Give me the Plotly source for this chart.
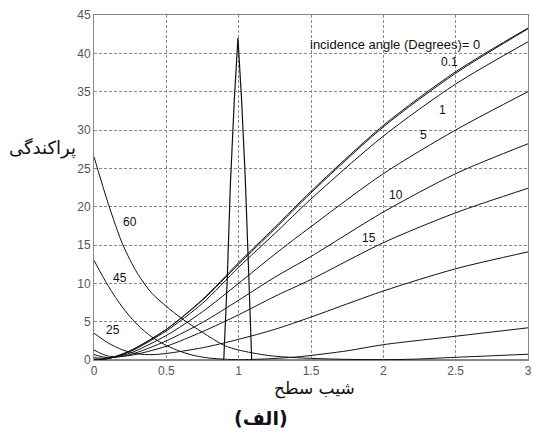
import plotly.graph_objects as go

# ---- data ----
x_rise = [0, 0.1, 0.25, 0.5, 0.75, 1, 1.25, 1.5, 2, 2.5, 3]
s_0   = [0.0, 0.2, 1.2, 4.0, 7.9, 12.7, 17.3, 22.0, 30.6, 37.6, 43.3]
s_01  = [0.05, 0.2, 1.2, 4.0, 7.8, 12.5, 17.1, 21.8, 30.4, 37.4, 43.2]
s_1   = [0.1, 0.2, 1.1, 3.8, 7.4, 12.1, 16.5, 21.0, 29.2, 36.0, 41.5]
s_5   = [0.3, 0.25, 0.9, 3.2, 6.3, 10.0, 13.8, 17.4, 24.3, 30.0, 35.0]
s_10  = [0.7, 0.3, 0.7, 2.5, 4.9, 7.8, 10.8, 13.5, 19.3, 24.3, 28.2]
s_15  = [1.3, 0.5, 0.6, 1.8, 3.7, 5.9, 8.3, 10.5, 15.3, 19.2, 22.4]

x_25 = [0, 0.1, 0.2, 0.3, 0.4, 0.5, 0.75, 1.0, 1.25, 1.5, 2.0, 2.5, 3.0]
s_25 = [3.5, 2.2, 1.3, 0.8, 0.7, 0.85, 1.6, 2.7, 4.0, 5.6, 9.0, 11.9, 14.1]

x_45 = [0, 0.1, 0.2, 0.3, 0.4, 0.5, 0.6, 0.7, 0.8, 0.9, 1.0, 1.2, 1.43, 1.75, 2.0, 2.5, 3.0]
s_45 = [13.0, 9.6, 6.8, 4.6, 3.0, 1.9, 1.1, 0.55, 0.25, 0.1, 0.05, 0.15, 0.45, 1.2, 2.0, 3.1, 4.2]

x_60 = [0, 0.1, 0.2, 0.3, 0.4, 0.5, 0.6, 0.75, 0.9, 1.0, 1.2, 1.4, 1.7, 2.0, 2.2, 2.5, 3.0]
s_60 = [26.5, 20.3, 15.0, 11.3, 8.7, 7.0, 5.5, 3.6, 1.9, 1.3, 0.6, 0.3, 0.1, 0.05, 0.1, 0.35, 0.75]

x_spike = [0, 0.897, 0.92, 0.943, 0.97, 0.995, 1.02, 1.045, 1.07, 1.09, 3.0]
s_spike = [0, 0, 10, 23, 34, 42, 34, 24, 11, 0, 0]

label_text = ["0.1", "1", "5", "10", "15", "60", "45", "25"]
label_x    = [2.46, 2.41, 2.28, 2.09, 1.90, 0.247, 0.178, 0.13]
label_y    = [38.9, 32.6, 29.3, 21.5, 15.9, 18.0, 10.7, 3.9]

x_ticks = [0, 0.5, 1, 1.5, 2, 2.5, 3]
y_ticks = [0, 5, 10, 15, 20, 25, 30, 35, 40, 45]

fig = go.Figure()

def add_curve(xs, ys, smooth=True, width=1.0):
    fig.add_trace(go.Scatter(
        x=xs, y=ys, mode="lines",
        line=dict(color="#111111", width=width,
                  shape="spline" if smooth else "linear", smoothing=0.8),
        showlegend=False, hoverinfo="skip"))

for ys in (s_0, s_01, s_1, s_5, s_10, s_15):
    add_curve(x_rise, ys)
add_curve(x_25, s_25)
add_curve(x_45, s_45)
add_curve(x_60, s_60)
add_curve(x_spike, s_spike, smooth=False, width=1.2)

for t, lx, ly in zip(label_text, label_x, label_y):
    fig.add_annotation(x=lx, y=ly, text=t, showarrow=False,
                       font=dict(family="Liberation Sans, Arial", size=12, color="#111111"))

fig.add_annotation(x=2.685, y=41.1, text="incidence angle (Degrees)= 0", showarrow=False,
                   xanchor="right",
                   font=dict(family="Liberation Sans, Arial", size=13, color="#111111"))

# Persian texts
fig.add_annotation(xref="paper", yref="paper", x=-0.118, y=0.615, text="پراکندگی",
                   xanchor="center", yanchor="middle",
                   showarrow=False, font=dict(family="DejaVu Serif, DejaVu Sans", size=18, color="#111111"))
fig.add_annotation(xref="paper", yref="paper", x=0.507, y=-0.082, text="شیب سطح",
                   xanchor="center", yanchor="middle",
                   showarrow=False, font=dict(family="DejaVu Serif, DejaVu Sans", size=17, color="#111111"))
fig.add_annotation(xref="paper", yref="paper", x=0.384, y=-0.168, text="<b>(الف)</b>",
                   xanchor="center", yanchor="middle",
                   showarrow=False, font=dict(family="DejaVu Sans", size=19, color="#111111"))

axis_common = dict(
    showgrid=True, gridcolor="#8a8a8a", griddash="3px,2px", gridwidth=1,
    showline=True, linecolor="#888888", linewidth=1, mirror=True,
    zeroline=False, ticks="", ticklabeloverflow="allow",
    tickfont=dict(family="Liberation Sans, Arial", size=12, color="#555555"),
)

fig.update_xaxes(range=[0, 3], tickvals=x_ticks,
                 ticktext=[("%g" % v) for v in x_ticks], **axis_common)
fig.update_yaxes(range=[0, 45], tickvals=y_ticks,
                 ticktext=[str(v) for v in y_ticks], **axis_common)

fig.update_layout(
    width=534, height=439,
    margin=dict(l=94, r=2, t=15, b=79),
    paper_bgcolor="white", plot_bgcolor="white",
)

fig.write_html("out.html")
